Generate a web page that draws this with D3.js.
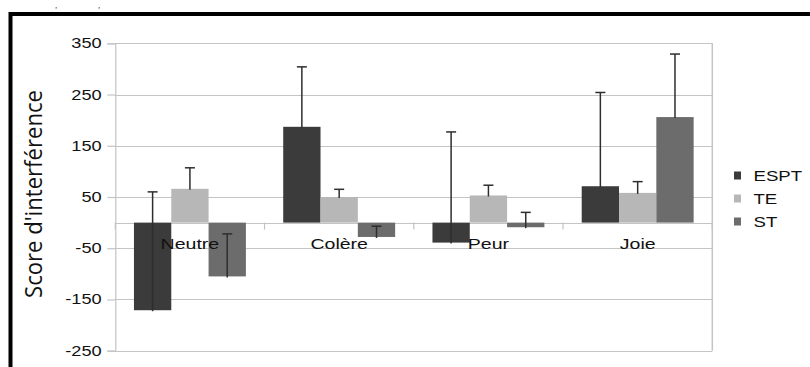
<!DOCTYPE html>
<html><head><meta charset="utf-8">
<script src="https://cdn.jsdelivr.net/npm/d3@7"></script>
<style>body{margin:0;background:#fff;overflow:hidden}svg{display:block}</style>
</head><body>
<svg id="c" width="810" height="367"></svg>
<script>
const categories = ["Neutre", "Colère", "Peur", "Joie"];
const seriesNames = ["ESPT", "TE", "ST"];
const espt = [-171, 187, -39, 71];
const esptErr = [231, 117, 216, 183];
const te = [66, 50, 53, 58];
const teErr = [41, 15, 20, 22];
const st = [-105, -28, -9, 206];
const stErr = [83, 21, 29, 123];
const yTicks = [350, 250, 150, 50, -50, -150, -250];
const colors = ["#3b3b3b", "#b7b7b7", "#6c6c6c"];

(function () {
const values = [espt, te, st];
const errs = [esptErr, teErr, stErr];

const svg = d3.select("#c");
const SX = 1.3; // horizontal stretch of the reference text

// outer frame
svg.append("rect").attr("x", 10.5).attr("y", 14).attr("width", 830).attr("height", 400)
  .attr("fill", "none").attr("stroke", "#000").attr("stroke-width", 4);

// fragment of text above frame
svg.append("text").attr("x", 55).attr("y", 8).attr("font-family", "Liberation Serif")
  .attr("font-style", "italic").attr("font-size", 9).attr("fill", "#444").text(",");
svg.append("text").attr("x", 98).attr("y", 8).attr("font-family", "Liberation Serif")
  .attr("font-style", "italic").attr("font-size", 9).attr("fill", "#444").text(",");

const pLeft = 115.3, pRight = 712.3, pTop = 43.3, pBottom = 350.7;
const y = d3.scaleLinear().domain([-250, 350]).range([pBottom, pTop]);
const x = d3.scaleBand().domain(categories).range([pLeft, pRight]).paddingInner(0).paddingOuter(0);
const xs = d3.scaleBand().domain(seriesNames).range([0, x.bandwidth()]).paddingInner(0).paddingOuter(0.5);

const grid = "#c4c4c4";
// gridlines
svg.append("g").selectAll("line").data(yTicks.concat([0])).join("line")
  .attr("x1", pLeft).attr("x2", pRight)
  .attr("y1", d => Math.round(y(d)) + 0.5).attr("y2", d => Math.round(y(d)) + 0.5)
  .attr("stroke", grid).attr("stroke-width", 1.2);
// right border
svg.append("line").attr("x1", pRight).attr("x2", pRight).attr("y1", pTop).attr("y2", pBottom)
  .attr("stroke", grid).attr("stroke-width", 1.5);

// y axis
const yAxis = svg.append("g").attr("transform", `translate(${pLeft},0)`)
  .call(d3.axisLeft(y).tickValues(yTicks).tickSize(8).tickPadding(2.5).tickFormat(d => String(d)));
yAxis.select(".domain").attr("stroke", grid).attr("stroke-width", 1.2);
yAxis.selectAll(".tick line").attr("stroke", grid).attr("stroke-width", 1.2);
yAxis.selectAll(".tick text").attr("font-family", "Liberation Sans").attr("font-size", 14)
  .attr("fill", "#111").attr("transform", `scale(${SX},1)`);

// category ticks on zero line
const bounds = categories.map(c => x(c)).concat([pRight]);
svg.append("g").selectAll("line").data(bounds).join("line")
  .attr("x1", d => d).attr("x2", d => d).attr("y1", y(0)).attr("y2", y(0) + 7)
  .attr("stroke", grid).attr("stroke-width", 1.2);

// bars
seriesNames.forEach((s, si) => {
  const g = svg.append("g");
  g.selectAll("rect").data(categories).join("rect")
    .attr("x", c => x(c) + xs(s))
    .attr("width", xs.bandwidth())
    .attr("y", (c, i) => y(Math.max(0, values[si][i])))
    .attr("height", (c, i) => Math.abs(y(values[si][i]) - y(0)))
    .attr("fill", colors[si]);
});

// error bars (plus direction)
seriesNames.forEach((s, si) => {
  const g = svg.append("g");
  categories.forEach((c, i) => {
    const cx = x(c) + xs(s) + xs.bandwidth() / 2;
    const v = values[si][i], e = errs[si][i];
    g.append("line").attr("x1", cx).attr("x2", cx).attr("y1", y(v + e)).attr("y2", y(v) + 1)
      .attr("stroke", "#2e2e2e").attr("stroke-width", 1.5);
    g.append("line").attr("x1", cx - 5).attr("x2", cx + 5).attr("y1", y(v + e)).attr("y2", y(v + e))
      .attr("stroke", "#2e2e2e").attr("stroke-width", 1.5);
  });
});

// category labels
svg.append("g").selectAll("text").data(categories).join("text")
  .attr("transform", c => `translate(${x(c) + x.bandwidth() / 2},${y(0) + 26}) scale(1.26,1)`)
  .attr("text-anchor", "middle").attr("font-family", "Liberation Sans").attr("font-size", 15.5)
  .attr("fill", "#111").text(c => c);

// y title
svg.append("text")
  .attr("transform", `translate(${42},${194}) scale(1.22,1) rotate(-90)`)
  .attr("text-anchor", "middle").attr("font-family", "Open Sans").attr("font-size", 20)
  .attr("font-weight", 500)
  .attr("textLength", 208).attr("lengthAdjust", "spacingAndGlyphs")
  .attr("fill", "#111").text("Score d'interférence");

// legend
const lg = svg.append("g");
seriesNames.forEach((s, si) => {
  const cy = 175.5 + si * 23;
  lg.append("rect").attr("x", 734).attr("y", cy - 4).attr("width", 7).attr("height", 8).attr("fill", colors[si]);
  lg.append("text").attr("transform", `translate(753.5,${cy + 5}) scale(1.33,1)`)
    .attr("font-family", "Liberation Sans").attr("font-size", 14).attr("fill", "#111").text(s);
});
})();
</script>
</body></html>
